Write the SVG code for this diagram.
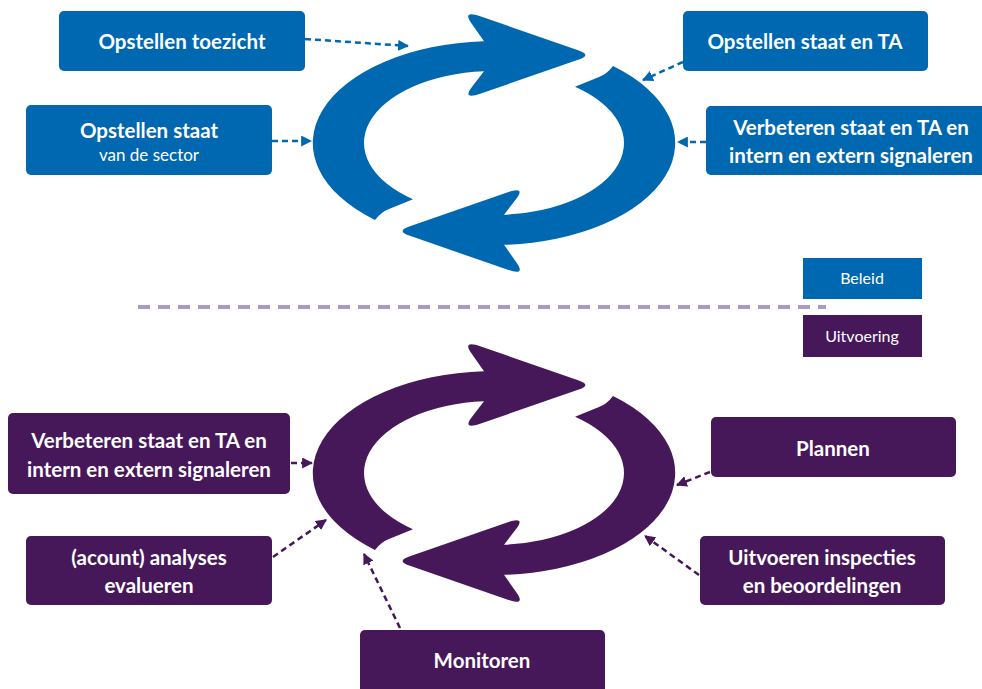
<svg xmlns="http://www.w3.org/2000/svg" width="982" height="689" viewBox="0 0 982 689">
<style>
.b{fill:#0067b1}
.p{fill:#46185a}
.t{font-family:Lato,"Noto Sans",sans-serif;font-weight:bold;font-size:20.5px;fill:#fff;text-anchor:middle}
.r{font-family:Lato,"Noto Sans",sans-serif;font-size:17px;fill:#fff;text-anchor:middle}
.cb{stroke:#0067b1;stroke-width:2.5;stroke-dasharray:6 4;fill:none}
.cp{stroke:#46185a;stroke-width:2.5;stroke-dasharray:6 4;fill:none}
</style>
<defs>
<path id="arr" d="M -10,-101.8 L -22.8,-119.9 Q -32,-133 -13.1,-126.5 L 84.8,-92.6 Q 98,-88 84.8,-83.4 L -13.1,-49.5 Q -32,-43 -22.3,-55.7 L -10,-71.8 A 130 72 0 0 0 -81,56.3 L -105,66 Q -113,69 -119,77 A 181 102 0 0 1 -10,-101.8 Z"/>
<marker id="mb" viewBox="0 0 10 10" refX="9" refY="5" markerWidth="11" markerHeight="11" markerUnits="userSpaceOnUse" orient="auto"><path d="M0,0 L10,5 L0,10 z" fill="#0067b1"/></marker>
<marker id="mp" viewBox="0 0 10 10" refX="9" refY="5" markerWidth="11" markerHeight="11" markerUnits="userSpaceOnUse" orient="auto"><path d="M0,0 L10,5 L0,10 z" fill="#46185a"/></marker>
</defs>

<g id="cycle-top" class="b">
<use href="#arr" transform="translate(494,143)"/>
<use href="#arr" transform="translate(494,143) rotate(180)"/>
</g>
<g id="cycle-bottom" class="p">
<use href="#arr" transform="translate(494,473)"/>
<use href="#arr" transform="translate(494,473) rotate(180)"/>
</g>

<line id="divider" x1="138" y1="307" x2="826" y2="307" stroke="#a99bc6" stroke-width="4" stroke-dasharray="12 8"/>

<g id="connectors">
<path class="cb" d="M305,39 L408,46" marker-end="url(#mb)"/>
<path class="cb" d="M272,141 L311,141" marker-end="url(#mb)"/>
<path class="cb" d="M683,62 L643,80" marker-end="url(#mb)"/>
<path class="cb" d="M706,142 L678,142" marker-end="url(#mb)"/>
<path class="cp" d="M291,463 L312,463" marker-end="url(#mp)"/>
<path class="cp" d="M273,557 L326,520" marker-end="url(#mp)"/>
<path class="cp" d="M400,628 L364,554" marker-end="url(#mp)"/>
<path class="cp" d="M710,472 L677,485" marker-end="url(#mp)"/>
<path class="cp" d="M699,575 L645,536" marker-end="url(#mp)"/>
</g>

<g id="n-toezicht"><rect class="b" x="59" y="11" width="246" height="60" rx="5"/><text class="t" x="182" y="49">Opstellen toezicht</text></g>
<g id="n-staat"><rect class="b" x="26" y="105" width="246" height="70" rx="5"/><text class="t" x="149" y="138">Opstellen staat</text><text class="r" x="149" y="161">van de sector</text></g>
<g id="n-staat-ta"><rect class="b" x="683" y="11" width="245" height="60" rx="5"/><text class="t" x="805" y="49">Opstellen staat en TA</text></g>
<g id="n-verbeteren-top"><rect class="b" x="706" y="106" width="290" height="69" rx="5"/><text class="t" x="851" y="135">Verbeteren staat en TA en</text><text class="t" x="851" y="163">intern en extern signaleren</text></g>

<g id="n-beleid"><rect class="b" x="803" y="258" width="119" height="41"/><text class="r" x="862" y="284" style="font-size:16px">Beleid</text></g>
<g id="n-uitvoering"><rect class="p" x="803" y="315" width="119" height="42"/><text class="r" x="862" y="342" style="font-size:16px">Uitvoering</text></g>

<g id="n-verbeteren-bottom"><rect class="p" x="8" y="413" width="282" height="81" rx="5"/><text class="t" x="149" y="448">Verbeteren staat en TA en</text><text class="t" x="149" y="477">intern en extern signaleren</text></g>
<g id="n-analyses"><rect class="p" x="26" y="536" width="246" height="69" rx="5"/><text class="t" x="149" y="565">(acount) analyses</text><text class="t" x="149" y="593">evalueren</text></g>
<g id="n-monitoren"><rect class="p" x="360" y="630" width="245" height="64" rx="5"/><text class="t" x="482" y="668">Monitoren</text></g>
<g id="n-plannen"><rect class="p" x="711" y="417" width="245" height="60" rx="5"/><text class="t" x="833" y="456">Plannen</text></g>
<g id="n-uitvoeren"><rect class="p" x="700" y="536" width="245" height="69" rx="5"/><text class="t" x="822" y="565">Uitvoeren inspecties</text><text class="t" x="822" y="593">en beoordelingen</text></g>
</svg>
